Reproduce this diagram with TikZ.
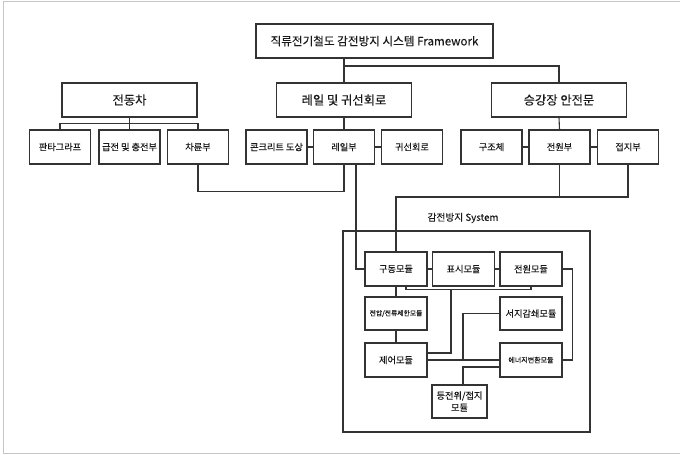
\documentclass[tikz,border=0pt]{standalone}
\usepackage{fontspec}
\setmainfont{Noto Sans CJK KR}[FakeBold=0.2]
\usetikzlibrary{calc}
\definecolor{ln}{HTML}{333333}
\tikzset{
  box/.style={draw=ln, line width=1.1pt, fill=white, inner sep=0pt, align=center, text=black!90},
  big/.style={box, minimum width=135pt, minimum height=34pt, font=\fontsize{12.3}{14}\selectfont},
  sub/.style={box, minimum width=61pt, minimum height=34pt, font=\fontsize{9.2}{10}\selectfont},
  mod/.style={box, minimum width=62pt, minimum height=34pt, font=\fontsize{9.2}{11}\selectfont},
  conn/.style={draw=ln, line width=1.1pt},
}
\begin{document}
\begin{tikzpicture}[x=1pt,y=-1pt]
\useasboundingbox (0,0) rectangle (680,455);
\draw[gray!45, line width=1pt] (680,1.5) -- (3.5,1.5) -- (3.5,453.5) -- (680,453.5);

% system frame
\node[draw=ln, line width=1.1pt, minimum width=247pt, minimum height=201pt, inner sep=0pt] (sys) at (466.5,331.5) {};
\node[font=\fontsize{9.7}{11}\selectfont, text=black!90] (syslabel) at (463,218) {감전방지 System};

% top
\node[box, minimum width=237pt, minimum height=34pt, font=\fontsize{11.6}{13}\selectfont] (top) at (374.5,41) {직류전기철도 감전방지 시스템 Framework};

% row 1
\node[big] (ev) at (129.5,100) {전동차};
\node[big] (rail) at (344,100) {레일 및 귀선회로};
\node[big] (plat) at (559,100) {승강장 안전문};

% row 2
\node[sub] (panto) at (60,147) {판타그라프};
\node[sub] (feed) at (129.5,147) {급전 및 충전부};
\node[sub] (wheel) at (198,147) {차륜부};
\node[sub] (conc) at (276.5,147) {콘크리트 도상};
\node[sub] (railp) at (344,147) {레일부};
\node[sub] (ret) at (412,147) {귀선회로};
\node[sub] (struct) at (491.5,147) {구조체};
\node[sub] (pwr) at (559.5,147) {전원부};
\node[sub] (gnd) at (628,147) {접지부};

% modules
\node[mod] (drive) at (396,269) {구동모듈};
\node[mod] (disp) at (463.5,269) {표시모듈};
\node[mod] (pmod) at (531,269) {전원모듈};
\node[mod, minimum height=33pt, font=\fontsize{6.8}{8}\selectfont] (vlim) at (396,313.5) {전압/전류제한모듈};
\node[mod, minimum height=33pt] (surge) at (531,313.5) {서지감쇄모듈};
\node[mod] (ctrl) at (396,360) {제어모듈};
\node[mod, font=\fontsize{7}{8}\selectfont] (energy) at (531,360) {에너지변환모듈};
\node[mod, minimum width=55pt, minimum height=33pt, font=\fontsize{9.2}{12}\selectfont] (eq) at (459.5,401.5) {등전위/접지\\모듈};

% top connectors
\draw[conn] (top.south -| rail.north) -- (rail.north);
\draw[conn] (rail.north |- 0,66) -| (plat.north);

% 전동차
\draw[conn] (ev.south) -- (feed.north);
\draw[conn] (panto.north) -- ++(0,-6) -| (wheel.north);

% 레일
\draw[conn] (rail.south) -- (railp.north);
\draw[conn] (conc.east) -- (railp.west);
\draw[conn] (railp.east) -- (ret.west);

% 승강장
\draw[conn] (plat.south) -- (pwr.north);
\draw[conn] (struct.east) -- (pwr.west);
\draw[conn] (pwr.east) -- (gnd.west);

% lower links
\draw[conn] (wheel.south) -- ++(0,27) -| (railp.south);
\draw[conn] ([xshift=12pt]railp.south) |- (drive.west);
\draw[conn] (pwr.south) -- (pwr.south |- 0,197);
\draw[conn] (gnd.south) |- (drive.north |- 0,197) -- (drive.north);

% system internal
\draw[conn] (drive.east) -- (disp.west);
\draw[conn] (disp.east) -- (pmod.west);
\draw[conn] (pmod.east) -- ++(10,0) |- (energy.east);
\draw[conn] (drive.south) -- (vlim.north);
\draw[conn] (vlim.south) -- (ctrl.north);
\draw[conn] ([xshift=10pt]drive.south) -- ++(0,3) -| (pmod.south);
\coordinate (j1) at (451,289);
\draw[conn] (j1) |- ([yshift=7pt]ctrl.east);
\draw[conn] (ctrl.east) -- (energy.west);
\draw[conn] (surge.west) -| (463,360);
\draw[conn] ([yshift=-7pt]energy.west) -| ([xshift=3.5pt]eq.north);
\end{tikzpicture}
\end{document}
